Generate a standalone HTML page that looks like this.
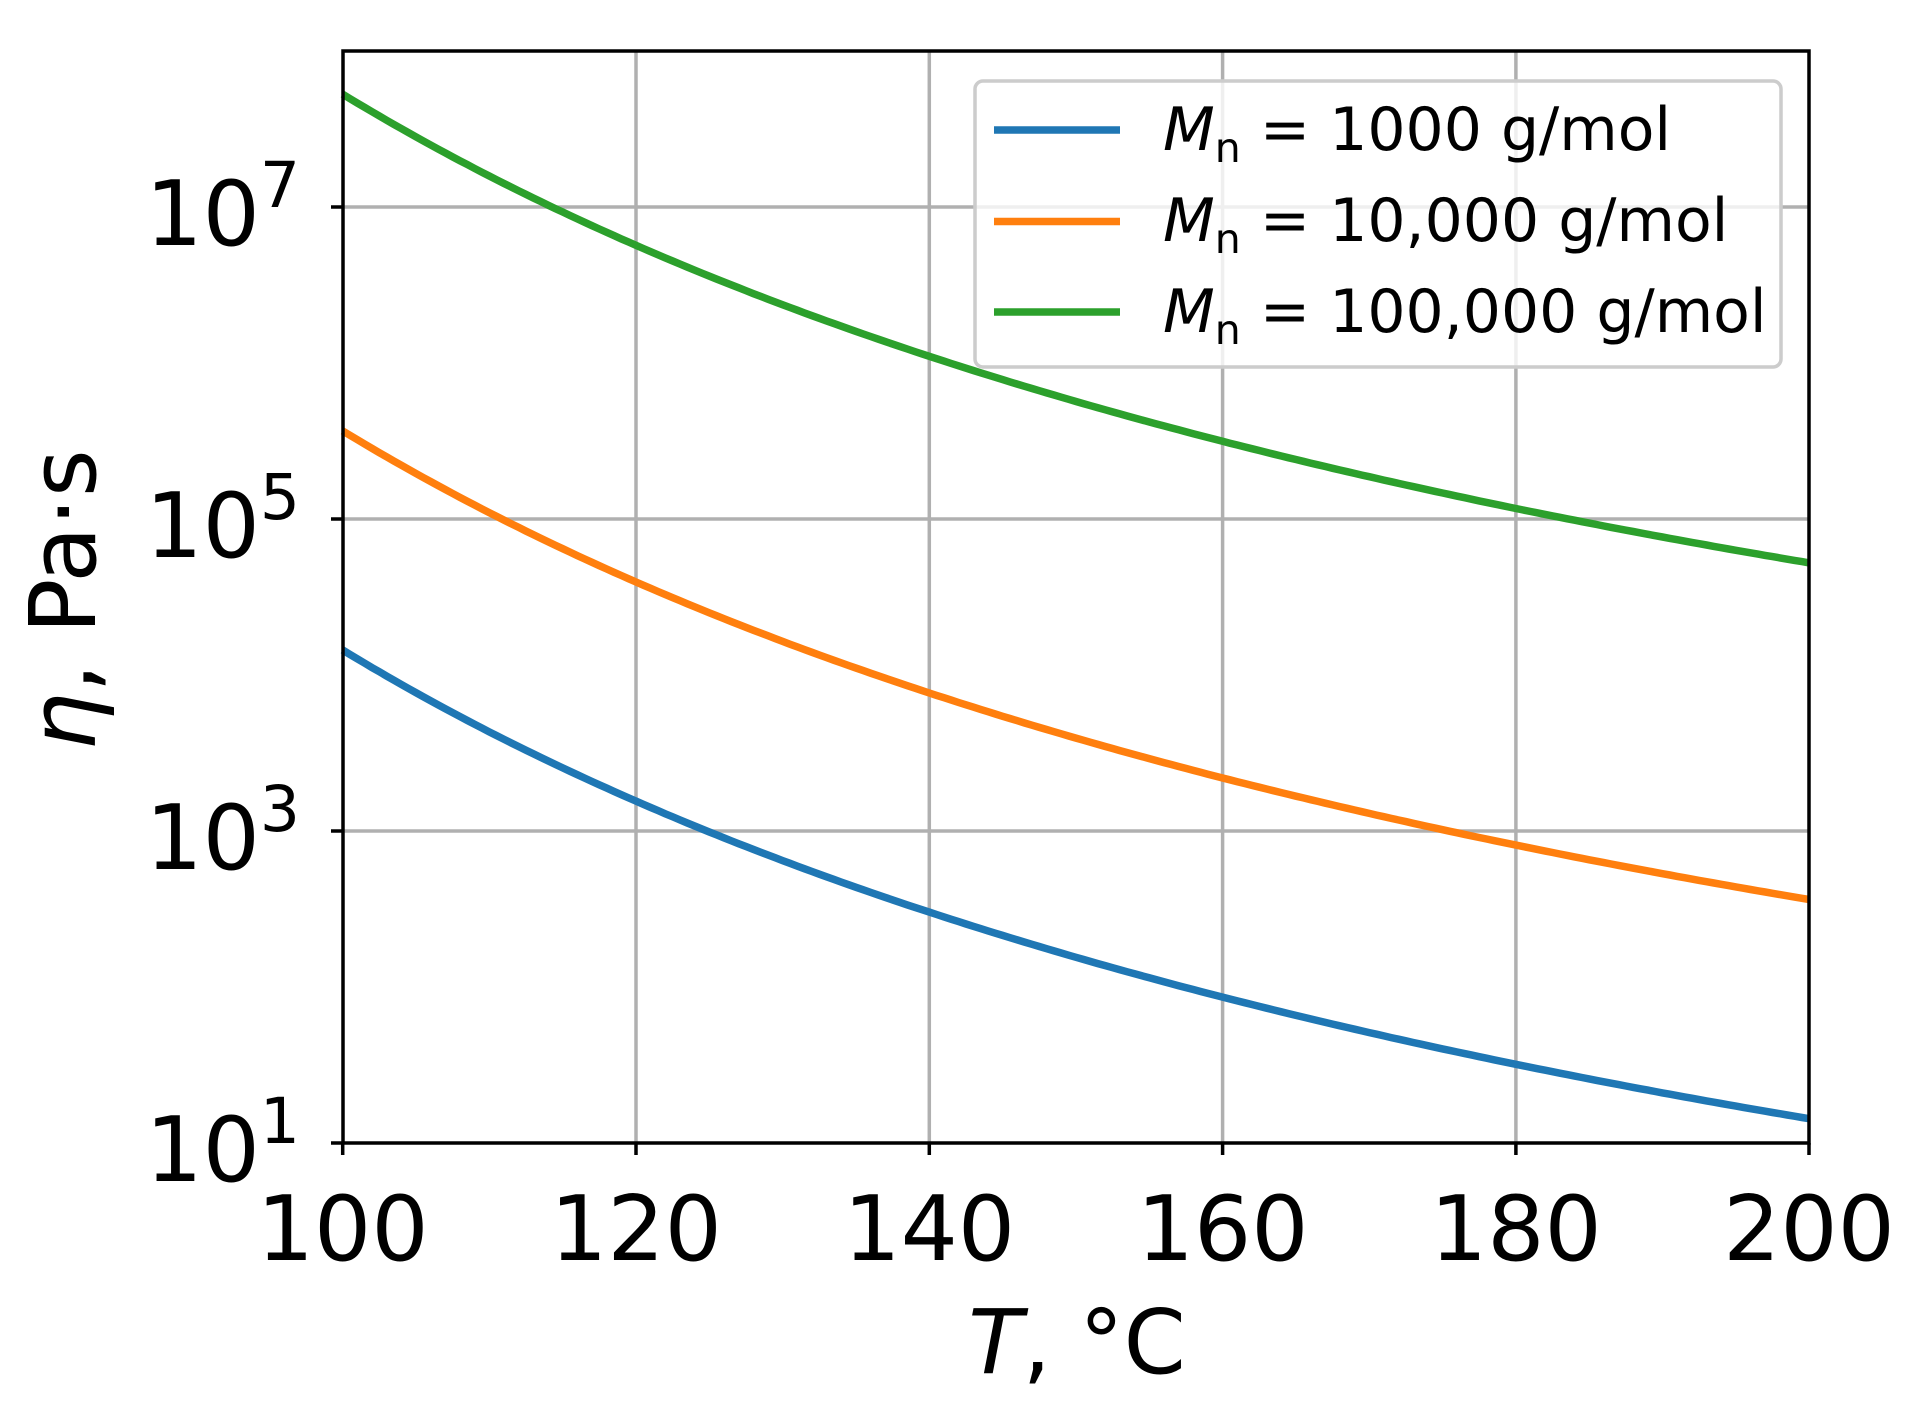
<!DOCTYPE html>
<html><head><meta charset="utf-8"><style>
html,body{margin:0;padding:0;background:#fff;}
svg{display:block;font-family:"DejaVu Sans","Liberation Sans",sans-serif;}
</style></head><body>
<svg id="s" width="1919" height="1423" viewBox="0 0 1919 1423" xmlns="http://www.w3.org/2000/svg">
<rect width="1919" height="1423" fill="#fff"/>
<g stroke="#b0b0b0" stroke-width="3.5">
<line x1="636" y1="51" x2="636" y2="1143"/>
<line x1="929.3" y1="51" x2="929.3" y2="1143"/>
<line x1="1222.6" y1="51" x2="1222.6" y2="1143"/>
<line x1="1515.9" y1="51" x2="1515.9" y2="1143"/>
<line x1="343" y1="207" x2="1809" y2="207"/>
<line x1="343" y1="519" x2="1809" y2="519"/>
<line x1="343" y1="831" x2="1809" y2="831"/>
</g>
<g id="curves" fill="none" stroke-width="7.5"></g>
<rect x="343" y="51" width="1466" height="1092" fill="none" stroke="#000" stroke-width="3.5"/>
<g stroke="#000" stroke-width="3.5">
<line x1="342.7" y1="1143" x2="342.7" y2="1155"/>
<line x1="636" y1="1143" x2="636" y2="1155"/>
<line x1="929.3" y1="1143" x2="929.3" y2="1155"/>
<line x1="1222.6" y1="1143" x2="1222.6" y2="1155"/>
<line x1="1515.9" y1="1143" x2="1515.9" y2="1155"/>
<line x1="1809" y1="1143" x2="1809" y2="1155"/>
<line x1="331" y1="207" x2="343" y2="207"/>
<line x1="331" y1="519" x2="343" y2="519"/>
<line x1="331" y1="831" x2="343" y2="831"/>
<line x1="331" y1="1143" x2="343" y2="1143"/>
</g>
<g font-size="90" text-anchor="middle" fill="#000">
<text x="342.7" y="1260">100</text>
<text x="636" y="1260">120</text>
<text x="929.3" y="1260">140</text>
<text x="1222.6" y="1260">160</text>
<text x="1515.9" y="1260">180</text>
<text x="1809" y="1260">200</text>
</g>
<g font-size="90" text-anchor="end" fill="#000">
<text x="300" y="245">10<tspan font-size="63" dy="-38">7</tspan></text>
<text x="300" y="557">10<tspan font-size="63" dy="-38">5</tspan></text>
<text x="300" y="869">10<tspan font-size="63" dy="-38">3</tspan></text>
<text x="300" y="1181">10<tspan font-size="63" dy="-38">1</tspan></text>
</g>
<text x="1077" y="1373" font-size="89" text-anchor="middle"><tspan font-style="italic">T</tspan>, °C</text>
<text transform="translate(95,600) rotate(-90)" font-size="92" text-anchor="middle"><tspan font-style="italic">η</tspan>, Pa·s</text>
<rect x="975" y="81" width="806" height="286" rx="8" fill="#fff" fill-opacity="0.8" stroke="#cccccc" stroke-width="3.5"/>
<g stroke-width="7.5">
<line x1="994" y1="130" x2="1120" y2="130" stroke="#1f77b4"/>
<line x1="994" y1="221.5" x2="1120" y2="221.5" stroke="#ff7f0e"/>
<line x1="994" y1="312" x2="1120" y2="312" stroke="#2ca02c"/>
</g>
<g font-size="60" fill="#000">
<text x="1163" y="150"><tspan font-style="italic">M</tspan><tspan font-size="41" dy="12">n</tspan><tspan dy="-12"> = 1000 g/mol</tspan></text>
<text x="1163" y="241"><tspan font-style="italic">M</tspan><tspan font-size="41" dy="12">n</tspan><tspan dy="-12"> = 10,000 g/mol</tspan></text>
<text x="1163" y="332"><tspan font-style="italic">M</tspan><tspan font-size="41" dy="12">n</tspan><tspan dy="-12"> = 100,000 g/mol</tspan></text>
</g>
</svg>
<script>
(function(){
var g=document.getElementById('curves');
var series=[[4.16,'#1f77b4'],[5.565,'#ff7f0e'],[7.723,'#2ca02c']];
series.forEach(function(s){
 var d='';
 for(var i=0;i<=200;i++){
  var T=100+i*0.5, dT=T-100;
  var L=s[0]-6.33*dT/(110.7+dT);
  var x=342.7+(T-100)*14.665, y=1143-(L-1)*156;
  d+=(i?'L':'M')+x.toFixed(1)+' '+y.toFixed(1);
 }
 var p=document.createElementNS('http://www.w3.org/2000/svg','path');
 p.setAttribute('d',d);p.setAttribute('stroke',s[1]);
 g.appendChild(p);
});
})();
</script>
</body></html>
